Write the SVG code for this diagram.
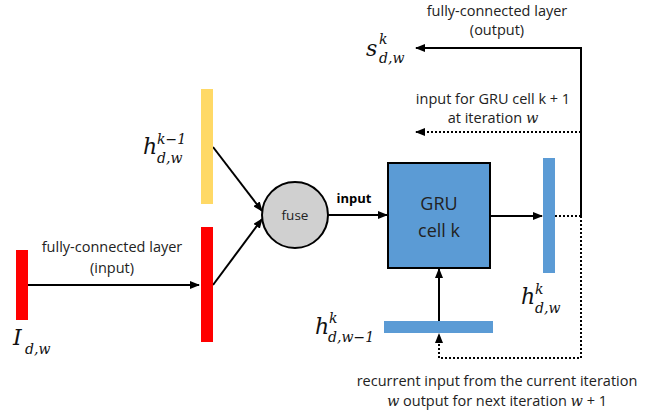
<svg xmlns="http://www.w3.org/2000/svg" width="660" height="416" viewBox="0 0 660 416">
<defs>
<marker id="ah" markerWidth="10" markerHeight="8" refX="9" refY="4" orient="auto" markerUnits="userSpaceOnUse">
<path d="M0,0 L10,4 L0,8 z" fill="#000"/>
</marker>
<style>
.lbl{font-family:"Open Sans","Liberation Sans",sans-serif;font-size:14.5px;fill:#222;text-anchor:middle}
.math{font-family:"DejaVu Serif","Liberation Serif",serif;font-style:italic;fill:#111}
.big{font-size:22px}
.sm{font-size:14px}
.ln{stroke:#000;stroke-width:2;fill:none}
.dot{stroke:#000;stroke-width:2;fill:none;stroke-dasharray:2 2}
</style>
</defs>
<rect width="660" height="416" fill="#fff"/>
<g id="connectors">
<line class="ln" x1="28" y1="285" x2="199" y2="285" marker-end="url(#ah)"/>
<line class="ln" x1="213" y1="147" x2="262" y2="211" marker-end="url(#ah)"/>
<line class="ln" x1="213" y1="285" x2="262" y2="219" marker-end="url(#ah)"/>
<line class="ln" x1="328" y1="215" x2="387" y2="215" marker-end="url(#ah)"/>
<line class="ln" x1="490" y1="216" x2="542" y2="216" marker-end="url(#ah)"/>
<line class="dot" x1="555" y1="216" x2="581" y2="216"/>
<polyline class="ln" points="581,216 581,48 416,48" marker-end="url(#ah)"/>
<line class="dot" x1="581" y1="132" x2="416" y2="132" marker-end="url(#ah)"/>
<polyline class="dot" points="581,216 581,358 439,358 439,334" marker-end="url(#ah)"/>
<line class="ln" x1="439" y1="321" x2="439" y2="269" marker-end="url(#ah)"/>
</g>
<g id="input-bar">
<rect x="16" y="250" width="12" height="70" fill="#ff0000"/>
<text class="math big" x="13" y="345">I</text>
<text class="math sm" x="25" y="354">d,w</text>
</g>
<g id="fc-input-label">
<text class="lbl" x="112" y="252">fully-connected layer</text>
<text class="lbl" x="112" y="273">(input)</text>
</g>
<g id="red-bar">
<rect x="201" y="227" width="12" height="115" fill="#ff0000"/>
</g>
<g id="yellow-bar">
<rect x="201" y="89" width="12" height="115" fill="#ffd966"/>
<text class="math big" x="143" y="154">h</text>
<text class="math sm" x="157" y="144">k−1</text>
<text class="math sm" x="157" y="163">d,w</text>
</g>
<g id="fuse">
<circle cx="295" cy="215" r="33" fill="#d0d0d0" stroke="#000" stroke-width="2"/>
<text class="lbl" x="295" y="220" style="font-size:13.5px">fuse</text>
</g>
<g id="input-label">
<text class="lbl" x="354" y="203" style="font-weight:bold;font-size:13px;fill:#000">input</text>
</g>
<g id="gru">
<rect x="388" y="163" width="102" height="105" fill="#5b9bd5" stroke="#000" stroke-width="2"/>
<text class="lbl" x="439" y="210" style="font-size:18px">GRU</text>
<text class="lbl" x="439" y="237" style="font-size:18px">cell k</text>
</g>
<g id="hidden-out">
<rect x="543" y="158" width="12" height="115" fill="#5b9bd5"/>
<text class="math big" x="521" y="304">h</text>
<text class="math sm" x="535" y="294">k</text>
<text class="math sm" x="535" y="313">d,w</text>
</g>
<g id="hidden-prev">
<rect x="384" y="321" width="109" height="12" fill="#5b9bd5"/>
<text class="math big" x="315" y="334">h</text>
<text class="math sm" x="329" y="323">k</text>
<text class="math sm" x="328" y="342">d,w−1</text>
</g>
<g id="output-s">
<text class="math big" x="366" y="56">s</text>
<text class="math sm" x="379" y="44">k</text>
<text class="math sm" x="379" y="63">d,w</text>
</g>
<g id="fc-output-label">
<text class="lbl" x="497" y="16">fully-connected layer</text>
<text class="lbl" x="497" y="35">(output)</text>
</g>
<g id="next-cell-label">
<text class="lbl" x="493" y="104">input for GRU cell k + 1</text>
<text class="lbl" x="493" y="123">at iteration <tspan style="font-family:'DejaVu Serif',serif;font-style:italic">w</tspan></text>
</g>
<g id="recurrent-label">
<text class="lbl" x="497" y="386">recurrent input from the current iteration</text>
<text class="lbl" x="497" y="406"><tspan style="font-family:'DejaVu Serif',serif;font-style:italic">w</tspan> output for next iteration <tspan style="font-family:'DejaVu Serif',serif;font-style:italic">w</tspan> + 1</text>
</g>
</svg>
